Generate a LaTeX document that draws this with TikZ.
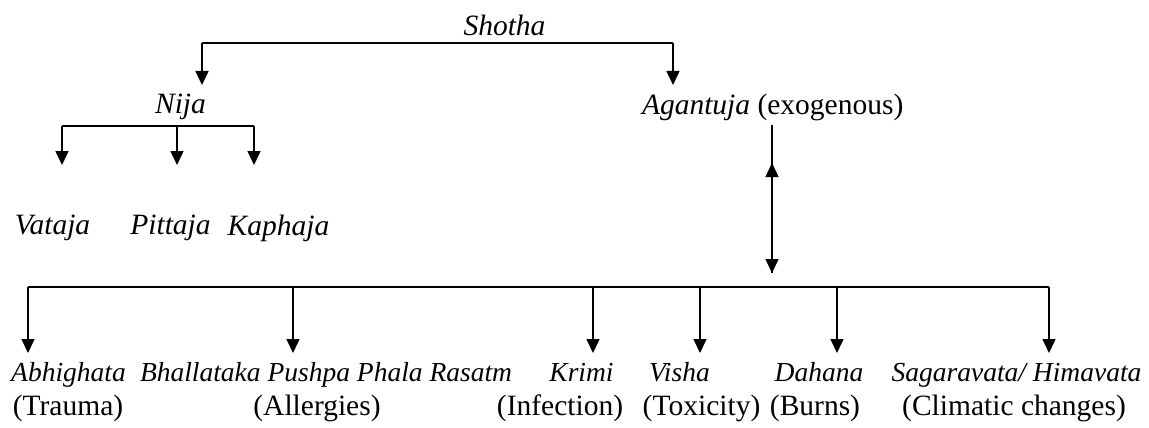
\documentclass[tikz,border=0pt]{standalone}
\usepackage{fontspec}
\setmainfont{Liberation Serif}
\usetikzlibrary{arrows.meta}
\begin{document}
\begin{tikzpicture}[x=1pt,y=-1pt,
  it/.style={inner sep=0pt, outer sep=0pt, font=\fontsize{29.5}{34}\selectfont\itshape},
  bit/.style={inner sep=0pt, outer sep=0pt, anchor=base, font=\fontsize{27.5}{32}\selectfont\itshape},
  rm/.style={inner sep=0pt, outer sep=0pt, font=\fontsize{29.5}{34}\selectfont},
  ln/.style={line width=1.5pt},
  arr/.style={line width=1.5pt, -{Triangle[width=13pt,length=14pt]}}]
\useasboundingbox (0,0) rectangle (1149,428);
% top level
\node[it] (shotha) at (504.5,25) {Shotha};
\coordinate (sL) at (202,43);
\coordinate (sR) at (673,43);
\coordinate (nijaTip) at (202,85);
\coordinate (agTip) at (673,85);
\draw[ln] (sL) -- (sR);
\draw[arr] (sL) -- (nijaTip);
\draw[arr] (sR) -- (agTip);
% second level
\node[it] (nija) at (180.5,107) {Nija};
\node[rm, anchor=west] (agantuja) at (642,107) {\textit{Agantuja} (exogenous)};
% Nija branches
\coordinate (nL) at (62,126);
\coordinate (nM) at (177,126);
\coordinate (nR) at (254,126);
\coordinate (nLt) at (62,165);
\coordinate (nMt) at (177,165);
\coordinate (nRt) at (254,165);
\draw[ln] (nL) -- (nR);
\draw[arr] (nL) -- (nLt);
\draw[arr] (nM) -- (nMt);
\draw[arr] (nR) -- (nRt);
\node[it] (vataja) at (52.5,228) {Vataja};
\node[it] (pittaja) at (170.5,228) {Pittaja};
\node[it] (kaphaja) at (278.5,228) {Kaphaja};
% Agantuja vertical
\coordinate (agTop) at (772,125);
\coordinate (agMid) at (772,163);
\coordinate (agBot) at (772,273);
\draw[arr] (agTop) -- (agBot);
\draw[arr] (agBot) -- (agMid);
% bottom bar
\coordinate (b1) at (28,287);
\coordinate (b2) at (293,287);
\coordinate (b3) at (593,287);
\coordinate (b4) at (700,287);
\coordinate (b5) at (837,287);
\coordinate (b6) at (1049,287);
\coordinate (t1) at (28,353);
\coordinate (t2) at (293,353);
\coordinate (t3) at (593,353);
\coordinate (t4) at (700,353);
\coordinate (t5) at (837,353);
\coordinate (t6) at (1049,353);
\draw[ln] (b1) -- (b6);
\draw[arr] (b1) -- (t1);
\draw[arr] (b2) -- (t2);
\draw[arr] (b3) -- (t3);
\draw[arr] (b4) -- (t4);
\draw[arr] (b5) -- (t5);
\draw[arr] (b6) -- (t6);
% bottom labels
\node[bit] (abhighata) at (68.5,381) {Abhighata};
\node[bit] (bhallataka) at (326,381) {Bhallataka Pushpa Phala Rasatm};
\node[bit] (krimi) at (581.5,381) {Krimi};
\node[bit] (visha) at (679.5,381) {Visha};
\node[bit] (dahana) at (819,381) {Dahana};
\node[bit] (sagaravata) at (1016.5,381) {Sagaravata/ Himavata};
\node[rm] (trauma) at (68,408) {(Trauma)};
\node[rm] (allergies) at (317,408) {(Allergies)};
\node[rm] (infection) at (560,408) {(Infection)};
\node[rm] (toxicity) at (701.5,408) {(Toxicity)};
\node[rm] (burns) at (815,408) {(Burns)};
\node[rm] (climatic) at (1014,408) {(Climatic changes)};
\end{tikzpicture}
\end{document}
